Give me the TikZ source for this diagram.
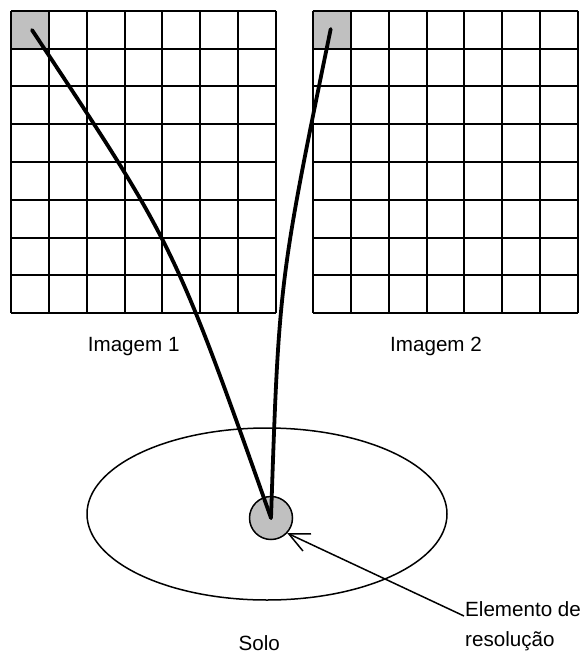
\documentclass[tikz,border=0pt]{standalone}
\usepackage{fontspec}
\setmainfont{Liberation Sans}
\usetikzlibrary{arrows.meta}
\definecolor{cellgray}{RGB}{192,192,192}
\tikzset{
  gridline/.style={line width=2pt, black},
  ray/.style={line width=3.8pt, black, line cap=round},
  thinline/.style={line width=1.5pt, black},
  lbl/.style={font=\fontsize{20.6}{30}\selectfont, inner sep=0pt, anchor=base west},
}
\begin{document}
\begin{tikzpicture}[x=1pt,y=-1pt]
\useasboundingbox (0,0) rectangle (582,655);
% grid 1
\fill[cellgray] (11,11) rectangle (48.86,48.75);
\foreach \i in {0,...,7} \draw[gridline] ({11+37.86*\i},11) -- ({11+37.86*\i},313);
\foreach \j in {0,...,8} \draw[gridline] (11,{11+37.75*\j}) -- (276,{11+37.75*\j});
% grid 2
\fill[cellgray] (312.7,11) rectangle (350.64,48.75);
\foreach \i in {0,...,7} \draw[gridline] ({312.7+37.94*\i},11) -- ({312.7+37.94*\i},313);
\foreach \j in {0,...,8} \draw[gridline] (312.7,{11+37.75*\j}) -- (578.3,{11+37.75*\j});
% labels
\node[lbl] (im1) at (87.7,351.7) {Imagem 1};
\node[lbl] (im2) at (390,351.7) {Imagem 2};
% ground
\draw[thinline] (267,514) ellipse [x radius=180, y radius=86];
\node[circle, draw, thinline, fill=cellgray, minimum size=43pt, inner sep=0pt] (elem) at (271,518) {};
\coordinate (s1) at (32,30);
\coordinate (s2) at (330.7,29);
\draw[ray] (s1) .. controls (174,244) .. (elem.center);
\draw[ray] (s2) .. controls (279,281) .. (elem.center);
% labels bottom
\node[lbl] (solo) at (238.5,650) {Solo};
\node[lbl, align=left, anchor=north west] (er) at (465,601) {Elemento de\\resolução};
\coordinate (ept) at (464,616);
\draw[thinline, -{Straight Barb[length=20pt, width=19pt]}] (ept) -- (elem.-43);
\end{tikzpicture}
\end{document}
